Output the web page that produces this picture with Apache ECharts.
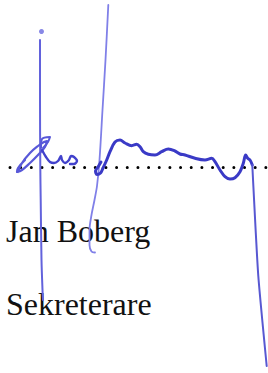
<!DOCTYPE html>
<html><head><meta charset="utf-8">
<script src="https://cdn.jsdelivr.net/npm/echarts@6/dist/echarts.min.js"></script>
<style>html,body{margin:0;padding:0;background:#fff}#c{width:268px;height:373px}</style>
</head><body><div id="c"></div>
<script>
// Text lines
const nameText = 'Jan Boberg';
const titleText = 'Sekreterare';

// Signature strokes as [x, y] points (picture units)
const strokeDot = [[41.5, 31.5]];
const strokeLeftStem = [[40, 40], [40, 100], [40.3, 167], [40.7, 200], [41.5, 260], [42.5, 290], [43, 300]];
const strokeLongStem = [[108.3, 5], [105.5, 60], [102.5, 110], [99.5, 160], [97, 186], [94.5, 200], [91.5, 215], [89.5, 230], [89.5, 245], [91.5, 251.5], [95, 252.5]];
const strokeLeaf = [[18, 172], [22, 163], [30, 153], [38, 146], [44, 142], [47, 141], [45, 147], [38, 155], [30, 163], [22, 170], [17, 172], [18, 168], [25, 160]];
const strokeFlag = [[41, 148], [42, 139], [50, 137], [48, 142], [43, 148]];
const strokeLetters = [[42, 150], [46, 157], [50, 162], [54, 163], [58, 161], [61, 156], [62, 160], [65, 163], [69, 160], [71, 156], [74, 157], [77, 161], [74, 164], [70, 164]];
const strokeWave = [[101, 162], [98, 167], [95.5, 171], [97, 174.5], [100.5, 173], [103, 168], [106.7, 160], [110, 151.7], [115, 142], [120, 140], [125, 143], [131.7, 145.7], [136.7, 144.3], [140, 146.7], [143.3, 151.7], [148.3, 154.3], [155, 155], [161.7, 151.7], [168.3, 149], [175, 151], [180, 154], [185, 155], [195, 158.3], [205, 160], [211.7, 158.3], [215, 161.7], [220, 170], [225, 176.7], [230, 179], [235, 177.7], [240, 171.7], [243.3, 163.3], [245.7, 155], [247.7, 158.3], [250, 160], [252.3, 165]];
const strokeRightStem = [[252.3, 165], [253.3, 185], [258.3, 276], [266.7, 366]];
const dottedRule = [[10, 167.5], [268, 167.5]];

function ink(data, color, width, smooth) {
  return { type: 'line', data: data, showSymbol: false, smooth: smooth, silent: true,
    lineStyle: { color: color, width: width, cap: 'round', join: 'round' }, z: 5 };
}

const chart = echarts.init(document.getElementById('c'), null, { renderer: 'svg' });
chart.setOption({
  animation: false,
  backgroundColor: '#ffffff',
  grid: { left: 0, right: 0, top: 0, bottom: 0 },
  xAxis: { type: 'value', min: 0, max: 268, show: false },
  yAxis: { type: 'value', min: 0, max: 373, inverse: true, show: false },
  graphic: [
    { type: 'text', left: 6, top: 215, style: { text: nameText, fill: '#111', font: '32px "Liberation Serif"' }, z: 1 },
    { type: 'text', left: 6, top: 288, style: { text: titleText, fill: '#111', font: '32px "Liberation Serif"' }, z: 1 }
  ],
  series: [
    { type: 'line', data: dottedRule, showSymbol: false, silent: true,
      lineStyle: { color: '#000', width: 3, type: [0.01, 10.65], cap: 'round' }, z: 3 },
    { type: 'scatter', data: strokeDot, symbolSize: 5, itemStyle: { color: '#6a6ae0' }, silent: true, z: 5 },
    ink(strokeLeftStem, '#6262dc', 2, 0.3),
    ink(strokeLongStem, '#8080e8', 1.8, 0.3),
    ink(strokeLeaf, '#5858d8', 2.2, 0.4),
    ink(strokeFlag, '#5858d8', 2, 0.3),
    ink(strokeLetters, '#4242cc', 2.4, 0.3),
    ink(strokeWave, '#3a3ac6', 3, 0.35),
    ink(strokeRightStem, '#5858d2', 2, 0.2)
  ]
});
</script></body></html>
